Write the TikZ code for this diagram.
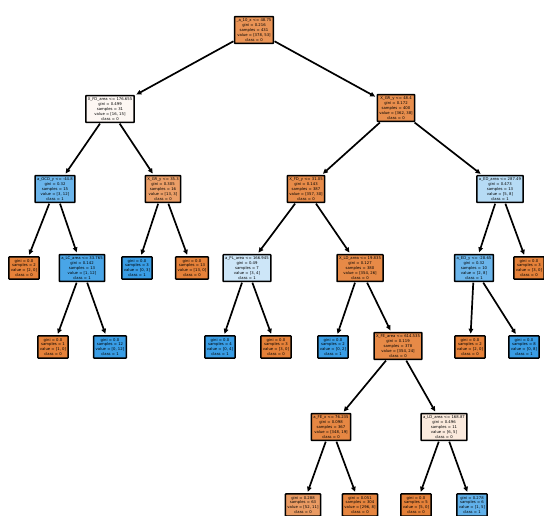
\documentclass[tikz,border=0pt]{standalone}
\usepackage{fontspec}
\setmainfont{DejaVu Sans}
\usetikzlibrary{arrows.meta}
\definecolor{clsA}{HTML}{E58139}
\definecolor{clsB}{HTML}{399DE5}
\tikzset{
  treenode/.style={draw=black,line width=1.5pt,rounded corners=0.5pt,align=center,inner xsep=2pt,inner ysep=2.2pt,font=\fontsize{3.8}{4.9}\selectfont},
  branch/.style={line width=1.7pt,-{Triangle[length=5pt,width=4.5pt]},shorten >=1.5pt,shorten <=0.5pt}
}
\begin{document}
\begin{tikzpicture}[x=1pt,y=-1pt]
\useasboundingbox (0,0) rectangle (544,515);
\node[treenode,fill=clsA!86!white] (n0) at (254,30) {\_a\_10\_x <= 48.75\\gini = 0.216\\samples = 431\\value = [378, 53]\\class = 0};
\node[treenode,fill=clsA!6!white] (n1) at (110,109) {X\_FD\_area <= 176.655\\gini = 0.499\\samples = 31\\value = [16, 15]\\class = 0};
\node[treenode,fill=clsB!75!white] (n2) at (55,189) {a\_OCD\_y <= -44.8\\gini = 0.32\\samples = 15\\value = [3, 12]\\class = 1};
\node[treenode,fill=clsA] (n3) at (24,268) {gini = 0.0\\samples = 2\\value = [2, 0]\\class = 0};
\node[treenode,fill=clsB!92!white] (n4) at (82,268) {a\_LC\_area <= 33.765\\gini = 0.142\\samples = 13\\value = [1, 12]\\class = 1};
\node[treenode,fill=clsA] (n5) at (53,347) {gini = 0.0\\samples = 1\\value = [1, 0]\\class = 0};
\node[treenode,fill=clsB] (n6) at (110,347) {gini = 0.0\\samples = 12\\value = [0, 12]\\class = 1};
\node[treenode,fill=clsA!77!white] (n7) at (163,189) {X\_GR\_y <= 35.3\\gini = 0.305\\samples = 16\\value = [13, 3]\\class = 0};
\node[treenode,fill=clsB] (n8) at (137,268) {gini = 0.0\\samples = 3\\value = [0, 3]\\class = 1};
\node[treenode,fill=clsA] (n9) at (192,268) {gini = 0.0\\samples = 13\\value = [13, 0]\\class = 0};
\node[treenode,fill=clsA!90!white] (n10) at (396,108) {X\_GR\_y <= 48.4\\gini = 0.172\\samples = 400\\value = [362, 38]\\class = 0};
\node[treenode,fill=clsA!92!white] (n11) at (306,189) {X\_FD\_y <= 31.05\\gini = 0.143\\samples = 387\\value = [357, 30]\\class = 0};
\node[treenode,fill=clsB!25!white] (n12) at (247,268) {a\_PL\_area <= 166.945\\gini = 0.49\\samples = 7\\value = [3, 4]\\class = 1};
\node[treenode,fill=clsB] (n13) at (220,347) {gini = 0.0\\samples = 4\\value = [0, 4]\\class = 1};
\node[treenode,fill=clsA] (n14) at (276,347) {gini = 0.0\\samples = 3\\value = [3, 0]\\class = 0};
\node[treenode,fill=clsA!93!white] (n15) at (360,268) {X\_LD\_area <= 19.835\\gini = 0.127\\samples = 380\\value = [354, 26]\\class = 0};
\node[treenode,fill=clsB] (n16) at (333,347) {gini = 0.0\\samples = 2\\value = [0, 2]\\class = 1};
\node[treenode,fill=clsA!93!white] (n17) at (398,346) {X\_FE\_area <= 614.535\\gini = 0.119\\samples = 378\\value = [354, 24]\\class = 0};
\node[treenode,fill=clsA!95!white] (n18) at (331,427) {a\_FE\_x <= 76.235\\gini = 0.098\\samples = 367\\value = [348, 19]\\class = 0};
\node[treenode,fill=clsA!79!white] (n19) at (303,505) {gini = 0.288\\samples = 63\\value = [52, 11]\\class = 0};
\node[treenode,fill=clsA!97!white] (n20) at (360,505) {gini = 0.051\\samples = 304\\value = [296, 8]\\class = 0};
\node[treenode,fill=clsA!17!white] (n21) at (444,427) {a\_LD\_area <= 168.87\\gini = 0.496\\samples = 11\\value = [6, 5]\\class = 0};
\node[treenode,fill=clsA] (n22) at (416,505) {gini = 0.0\\samples = 5\\value = [5, 0]\\class = 0};
\node[treenode,fill=clsB!80!white] (n23) at (472,505) {gini = 0.278\\samples = 6\\value = [1, 5]\\class = 1};
\node[treenode,fill=clsB!37!white] (n24) at (500,189) {a\_ED\_area <= 287.49\\gini = 0.473\\samples = 13\\value = [5, 8]\\class = 1};
\node[treenode,fill=clsB!75!white] (n25) at (474,268) {a\_ED\_y <= -28.65\\gini = 0.32\\samples = 10\\value = [2, 8]\\class = 1};
\node[treenode,fill=clsA] (n26) at (470,347) {gini = 0.0\\samples = 2\\value = [2, 0]\\class = 0};
\node[treenode,fill=clsB] (n27) at (524,347) {gini = 0.0\\samples = 8\\value = [0, 8]\\class = 1};
\node[treenode,fill=clsA] (n28) at (529,268) {gini = 0.0\\samples = 3\\value = [3, 0]\\class = 0};

\draw[branch] (n0)--(n1);
\draw[branch] (n0)--(n10);
\draw[branch] (n1)--(n2);
\draw[branch] (n1)--(n7);
\draw[branch] (n2)--(n3);
\draw[branch] (n2)--(n4);
\draw[branch] (n4)--(n5);
\draw[branch] (n4)--(n6);
\draw[branch] (n7)--(n8);
\draw[branch] (n7)--(n9);
\draw[branch] (n10)--(n11);
\draw[branch] (n10)--(n24);
\draw[branch] (n11)--(n12);
\draw[branch] (n11)--(n15);
\draw[branch] (n12)--(n13);
\draw[branch] (n12)--(n14);
\draw[branch] (n15)--(n16);
\draw[branch] (n15)--(n17);
\draw[branch] (n17)--(n18);
\draw[branch] (n17)--(n21);
\draw[branch] (n18)--(n19);
\draw[branch] (n18)--(n20);
\draw[branch] (n21)--(n22);
\draw[branch] (n21)--(n23);
\draw[branch] (n24)--(n25);
\draw[branch] (n24)--(n28);
\draw[branch] (n25)--(n26);
\draw[branch] (n25)--(n27);
\end{tikzpicture}
\end{document}
